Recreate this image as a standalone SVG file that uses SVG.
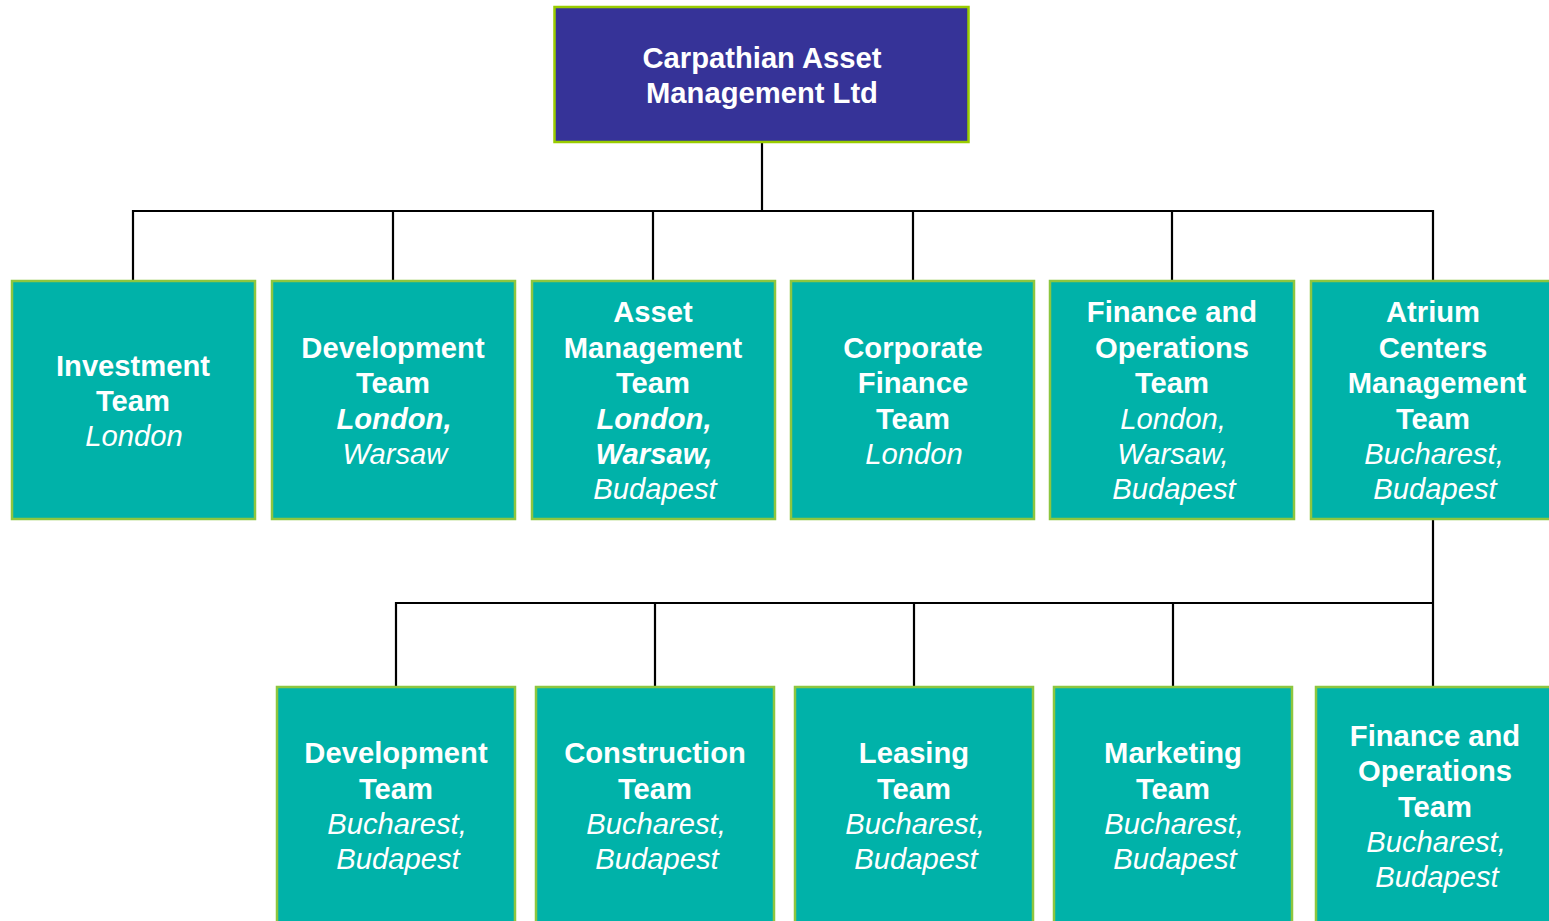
<svg xmlns="http://www.w3.org/2000/svg" width="1549" height="921" viewBox="0 0 1549 921">
  <style>
    .root { fill: #363398; stroke: #99CC00; stroke-width: 2.5; }
    .team { fill: #00B2A9; stroke: #8DC63F; stroke-width: 2.5; }
    .link { fill: none; stroke: #000; stroke-width: 2.2; }
    text { font-family: "Liberation Sans", Arial, sans-serif; font-size: 29.2px; fill: #fff; text-anchor: middle; }
    .b { font-weight: bold; }
    .i { font-style: italic; }
    .bi { font-weight: bold; font-style: italic; }
  </style>
  <rect width="1549" height="921" fill="#fff"/>

  <g id="connectors">
    <path class="link" d="M762 143 V211" stroke-width="3"/>
    <path class="link" d="M133 281 V211 H1433 V281"/>
    <path class="link" d="M393 211 V281 M653 211 V281 M913 211 V281 M1172 211 V281"/>
    <path class="link" d="M1433 519 V687"/>
    <path class="link" d="M396 687 V603 H1433"/>
    <path class="link" d="M655 603 V687 M914 603 V687 M1173 603 V687"/>
  </g>

  <g id="carpathian">
    <rect class="root" x="554.5" y="7" width="414" height="135"/>
    <text class="b" x="762" y="68">Carpathian Asset</text>
    <text class="b" x="762" y="103">Management Ltd</text>
  </g>

  <g id="investment">
    <rect class="team" x="12" y="281" width="243" height="238"/>
    <text class="b" x="133" y="376">Investment</text>
    <text class="b" x="133" y="411">Team</text>
    <text class="i" x="134" y="446">London</text>
  </g>

  <g id="development">
    <rect class="team" x="272" y="281" width="243" height="238"/>
    <text class="b" x="393" y="358">Development</text>
    <text class="b" x="393" y="393">Team</text>
    <text class="bi" x="394" y="429">London,</text>
    <text class="i" x="395" y="464">Warsaw</text>
  </g>

  <g id="asset-management">
    <rect class="team" x="532" y="281" width="243" height="238"/>
    <text class="b" x="653" y="322">Asset</text>
    <text class="b" x="653" y="358">Management</text>
    <text class="b" x="653" y="393">Team</text>
    <text class="bi" x="654" y="429">London,</text>
    <text class="bi" x="654" y="464">Warsaw,</text>
    <text class="i" x="655" y="499">Budapest</text>
  </g>

  <g id="corporate-finance">
    <rect class="team" x="791" y="281" width="243" height="238"/>
    <text class="b" x="913" y="358">Corporate</text>
    <text class="b" x="913" y="393">Finance</text>
    <text class="b" x="913" y="429">Team</text>
    <text class="i" x="914" y="464">London</text>
  </g>

  <g id="finance-operations">
    <rect class="team" x="1050" y="281" width="244" height="238"/>
    <text class="b" x="1172" y="322">Finance and</text>
    <text class="b" x="1172" y="358">Operations</text>
    <text class="b" x="1172" y="393">Team</text>
    <text class="i" x="1173" y="429">London,</text>
    <text class="i" x="1173" y="464">Warsaw,</text>
    <text class="i" x="1174" y="499">Budapest</text>
  </g>

  <g id="atrium-centers">
    <rect class="team" x="1311" y="281" width="243" height="238"/>
    <text class="b" x="1433" y="322">Atrium</text>
    <text class="b" x="1433" y="358">Centers</text>
    <text class="b" x="1437" y="393">Management</text>
    <text class="b" x="1433" y="429">Team</text>
    <text class="i" x="1434" y="464">Bucharest,</text>
    <text class="i" x="1435" y="499">Budapest</text>
  </g>

  <g id="atrium-development">
    <rect class="team" x="277" y="687" width="238" height="240"/>
    <text class="b" x="396" y="763">Development</text>
    <text class="b" x="396" y="799">Team</text>
    <text class="i" x="397" y="834">Bucharest,</text>
    <text class="i" x="398" y="869">Budapest</text>
  </g>

  <g id="atrium-construction">
    <rect class="team" x="536" y="687" width="238" height="240"/>
    <text class="b" x="655" y="763">Construction</text>
    <text class="b" x="655" y="799">Team</text>
    <text class="i" x="656" y="834">Bucharest,</text>
    <text class="i" x="657" y="869">Budapest</text>
  </g>

  <g id="atrium-leasing">
    <rect class="team" x="795" y="687" width="238" height="240"/>
    <text class="b" x="914" y="763">Leasing</text>
    <text class="b" x="914" y="799">Team</text>
    <text class="i" x="915" y="834">Bucharest,</text>
    <text class="i" x="916" y="869">Budapest</text>
  </g>

  <g id="atrium-marketing">
    <rect class="team" x="1054" y="687" width="238" height="240"/>
    <text class="b" x="1173" y="763">Marketing</text>
    <text class="b" x="1173" y="799">Team</text>
    <text class="i" x="1174" y="834">Bucharest,</text>
    <text class="i" x="1175" y="869">Budapest</text>
  </g>

  <g id="atrium-finance-operations">
    <rect class="team" x="1316" y="687" width="238" height="240"/>
    <text class="b" x="1435" y="746">Finance and</text>
    <text class="b" x="1435" y="781">Operations</text>
    <text class="b" x="1435" y="817">Team</text>
    <text class="i" x="1436" y="852">Bucharest,</text>
    <text class="i" x="1437" y="887">Budapest</text>
  </g>
</svg>
